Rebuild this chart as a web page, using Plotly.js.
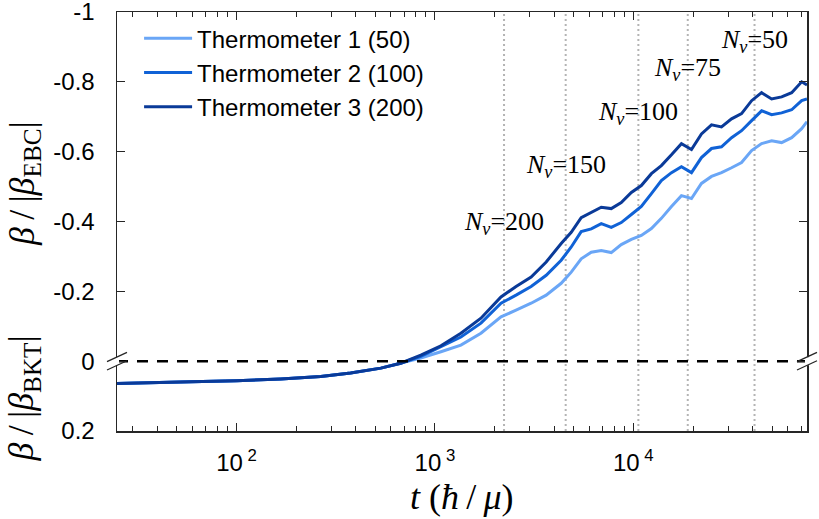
<!DOCTYPE html>
<html><head><meta charset="utf-8">
<script src="https://cdn.plot.ly/plotly-3.0.1.min.js"></script>
<style>html,body{margin:0;padding:0;background:#fff}#chart{width:819px;height:519px}</style>
</head><body><div id="chart"></div>
<script>
// ---- data ----
const time = [25, 37, 59, 100, 167, 266, 376, 534, 673,
  849, 1072, 1352, 1706, 2153, 2564, 3054, 3637, 4328, 4864,
  5459, 6137, 6890, 7740, 8690, 9770, 10970, 12330, 13840, 15560,
  17470, 19630, 22040, 24770, 27810, 31250, 35100, 39440, 44290, 49750,
  55880, 62770, 70500, 75000];
const thermo1 = [0.064, 0.061, 0.059, 0.056, 0.051, 0.044, 0.034, 0.020, 0.006,
  -0.009, -0.027, -0.046, -0.080, -0.127, -0.146, -0.166, -0.189, -0.223, -0.255,
  -0.293, -0.312, -0.317, -0.311, -0.334, -0.349, -0.360, -0.380, -0.409, -0.443,
  -0.474, -0.466, -0.509, -0.529, -0.540, -0.554, -0.569, -0.603, -0.623, -0.631,
  -0.626, -0.640, -0.666, -0.686];
const thermo2 = [0.064, 0.061, 0.059, 0.056, 0.051, 0.044, 0.034, 0.020, 0.006,
  -0.014, -0.041, -0.069, -0.109, -0.166, -0.189, -0.214, -0.246, -0.289, -0.327,
  -0.371, -0.379, -0.394, -0.383, -0.397, -0.420, -0.443, -0.480, -0.517, -0.540,
  -0.557, -0.540, -0.583, -0.609, -0.614, -0.640, -0.660, -0.689, -0.717, -0.706,
  -0.711, -0.720, -0.746, -0.751];
const thermo3 = [0.064, 0.061, 0.059, 0.056, 0.051, 0.044, 0.034, 0.020, 0.006,
  -0.017, -0.044, -0.080, -0.123, -0.184, -0.214, -0.241, -0.284, -0.337, -0.369,
  -0.411, -0.427, -0.441, -0.437, -0.454, -0.483, -0.503, -0.537, -0.560, -0.591,
  -0.623, -0.606, -0.651, -0.677, -0.671, -0.694, -0.709, -0.746, -0.769, -0.751,
  -0.757, -0.769, -0.800, -0.791];
const seriesNames = ['Thermometer 1 (50)', 'Thermometer 2 (100)', 'Thermometer 3 (200)'];
const seriesColors = ['#6aa6f6', '#1062d6', '#0a3a98'];
const markerTimes = [2230, 4560, 10600, 18800, 40800];
const markerLabels = ['200', '150', '100', '75', '50'];
const markerLabelY = [-0.397, -0.56, -0.711, -0.837, -0.917];
const xRange = [25, 75000];
const yRange = [0.2, -1];
const yTickVals = [0.2, 0, -0.2, -0.4, -0.6, -0.8, -1];
const yTickText = ['0.2', '0', '-0.2', '-0.4', '-0.6', '-0.8', '-1'];
const xTickVals = [100, 1000, 10000];
const xTickText = ['10<sup> 2</sup>', '10<sup> 3</sup>', '10<sup> 4</sup>'];

// ---- build ----
const minorVals = [];
for (let p = 1; p <= 4; p++) for (let k = 2; k <= 9; k++) {
  const v = k * Math.pow(10, p);
  if (v >= xRange[0] && v <= xRange[1]) minorVals.push(v);
}
const axisColor = '#262626';
const traces = [];
markerTimes.forEach(t => traces.push({
  x: [t, t], y: yRange, mode: 'lines', showlegend: false, hoverinfo: 'skip',
  line: {color: '#b4b4b4', width: 2, dash: '2px,3px'}
}));
[thermo1, thermo2, thermo3].forEach((ys, i) => traces.push({
  x: time, y: ys, mode: 'lines', name: seriesNames[i],
  line: {color: seriesColors[i], width: 3}
}));
traces.push({
  x: xRange, y: [0, 0], mode: 'lines', showlegend: false, hoverinfo: 'skip',
  line: {color: '#000', width: 2.5, dash: '11px,9px'}
});

const serif = 'Liberation Serif, DejaVu Serif, serif';
const sans = 'Liberation Sans, Arial, sans-serif';
const ts = '\u2009';
const annotations = markerTimes.map((t, i) => ({
  x: Math.log10(t), y: markerLabelY[i], xref: 'x', yref: 'y', showarrow: false,
  xanchor: 'center', yanchor: 'middle',
  text: '<i>N</i><sub><i>v</i></sub>=' + markerLabels[i],
  font: {family: serif, size: 26, color: '#000'}
}));
annotations.push({xref: 'paper', yref: 'y', x: -0.135, y: -0.51, showarrow: false, textangle: -90,
  xanchor: 'center', yanchor: 'middle',
  text: '<i>β</i>' + ts + '/' + ts + '|<i>β</i><sub>EBC</sub>|', font: {family: serif, size: 36, color: '#000'}});
annotations.push({xref: 'paper', yref: 'y', x: -0.135, y: 0.107, showarrow: false, textangle: -90,
  xanchor: 'center', yanchor: 'middle',
  text: '<i>β</i>' + ts + '/' + ts + '|<i>β</i><sub>BKT</sub>|', font: {family: serif, size: 36, color: '#000'}});
annotations.push({xref: 'paper', yref: 'paper', x: 0.5, y: -0.157, showarrow: false,
  xanchor: 'center', yanchor: 'middle',
  text: '<i>t</i> (<i>ħ</i>' + ts + '/' + ts + '<i>μ</i>)', font: {family: serif, size: 36, color: '#000'}});

// axis break marks at y = 0 on both sides
const shapes = [];
[0, 1].forEach(px => {
  shapes.push({type: 'rect', xref: 'paper', yref: 'y', xsizemode: 'pixel', ysizemode: 'pixel',
    xanchor: px, yanchor: 0, x0: -2, x1: 2, y0: -4, y1: 4,
    fillcolor: '#fff', line: {width: 0}, layer: 'above'});
  [[-10, -0.4, 10, 8.8], [-10, -8.8, 10, 0.4]].forEach(s => shapes.push({
    type: 'line', xref: 'paper', yref: 'y', xsizemode: 'pixel', ysizemode: 'pixel',
    xanchor: px, yanchor: 0, x0: s[0], y0: s[1], x1: s[2], y1: s[3],
    line: {color: axisColor, width: 1.3}, layer: 'above'}));
});

const layout = {
  width: 819, height: 519,
  margin: {l: 117, r: 12, t: 12, b: 88},
  paper_bgcolor: '#fff', plot_bgcolor: '#fff',
  font: {family: sans, size: 24, color: '#000'},
  showlegend: true,
  legend: {x: 0.032, y: 0.99, xanchor: 'left', yanchor: 'top', bgcolor: 'rgba(0,0,0,0)',
    font: {family: sans, size: 24, color: '#000'}, itemwidth: 48, tracegroupgap: 0},
  xaxis: {type: 'log', range: xRange.map(Math.log10), showgrid: false, zeroline: false,
    showline: true, linecolor: axisColor, linewidth: 1.5, mirror: 'allticks',
    ticks: 'inside', ticklen: 8, tickcolor: axisColor, tickwidth: 1,
    tickmode: 'array', tickvals: xTickVals, ticktext: xTickText, ticklabeloverflow: 'allow',
    tickfont: {family: sans, size: 24, color: '#000'}, ticklabelstandoff: 10,
    minor: {tickmode: 'array', tickvals: minorVals, ticks: 'inside', ticklen: 5, tickcolor: axisColor, tickwidth: 1, showgrid: false}},
  yaxis: {range: yRange, showgrid: false, zeroline: false,
    showline: true, linecolor: axisColor, linewidth: 1.5, mirror: 'allticks',
    ticks: 'inside', ticklen: 8, tickcolor: axisColor, tickwidth: 1,
    tickmode: 'array', tickvals: yTickVals, ticktext: yTickText, ticklabeloverflow: 'allow',
    tickfont: {family: sans, size: 24, color: '#000'}, ticklabelstandoff: 16},
  annotations: annotations,
  shapes: shapes
};
Plotly.newPlot('chart', traces, layout, {displayModeBar: false, staticPlot: true});
</script></body></html>
